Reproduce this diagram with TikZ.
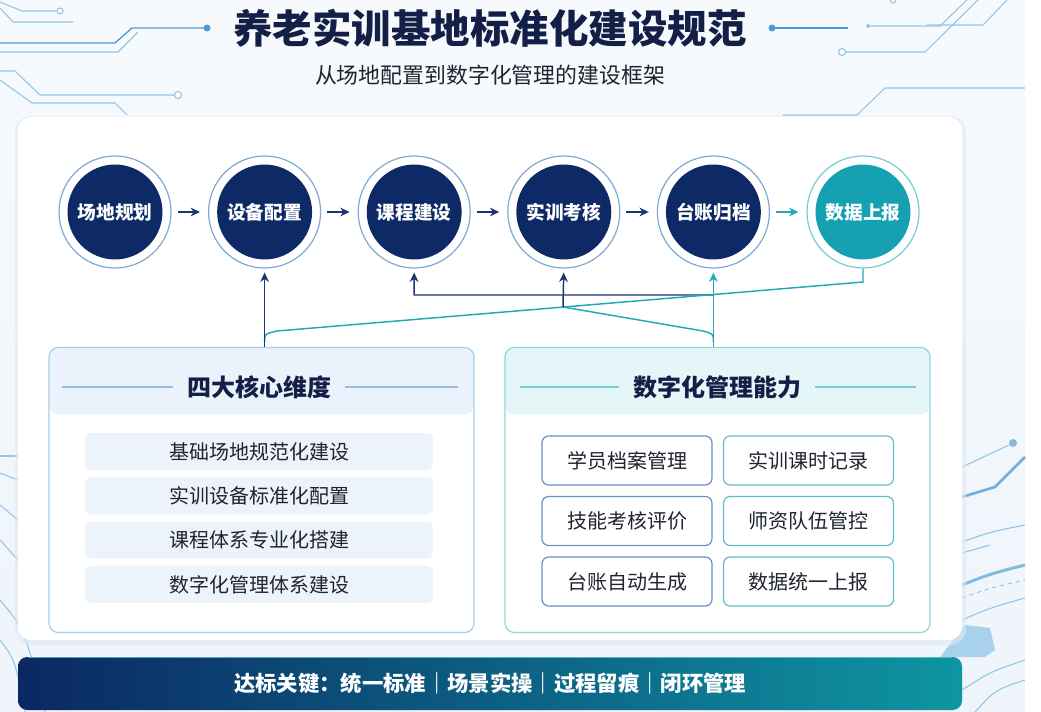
\documentclass[tikz,border=0pt]{standalone}
\usepackage{fontspec}
\setmainfont{Noto Sans CJK SC}
\usepackage{tikz}
\usetikzlibrary{arrows.meta,calc}
\definecolor{navydeep}{HTML}{0E2A66}
\definecolor{navyline}{HTML}{1C3374}
\definecolor{tealdot}{HTML}{15A1B1}
\definecolor{tealline}{HTML}{22A9B5}
\definecolor{ringblue}{HTML}{7FA9D4}
\definecolor{ringteal}{HTML}{72CDD2}
\definecolor{titleink}{HTML}{141F47}
\definecolor{textink}{HTML}{1F2430}
\definecolor{decoblue}{HTML}{92C6E8}
\definecolor{decomid}{HTML}{4E9BD4}
\definecolor{hdrblue}{HTML}{EAF3FB}
\definecolor{hdrteal}{HTML}{E4F6F7}
\definecolor{itemfill}{HTML}{EDF3FA}
\definecolor{panelblue}{HTML}{A9CDEA}
\definecolor{panelteal}{HTML}{8ED8DA}
\definecolor{boxblue}{HTML}{6A90C8}
\definecolor{boxteal}{HTML}{5DBEC6}
\definecolor{hdrlineblue}{HTML}{9DBCD9}
\definecolor{hdrlineteal}{HTML}{7CCFD4}
\definecolor{bannerleft}{HTML}{0B2862}
\definecolor{bannerright}{HTML}{0E95A2}

\tikzset{
  stepdot/.style={circle, draw=ringblue, fill=white, line width=0.9pt, minimum size=84pt,
    inner sep=0pt, text=white, font=\bfseries\fontsize{14}{16}\selectfont,
    path picture={\fill[#1] (path picture bounding box.center) circle (35.6pt);}},
  stepdot/.default=navydeep,
  flow/.style={-{Stealth[length=7pt,width=6.5pt]}, line width=1.3pt, navyline,
    shorten <=4.5pt, shorten >=6pt},
  riser/.style={-{Stealth[length=7pt,width=6.5pt]}, line width=1.1pt, shorten >=3pt},
  panel/.style 2 args={draw=#1, fill=white, line width=0.9pt, rounded corners=7pt,
    minimum width=318.75pt, minimum height=213.75pt,
    path picture={\fill[#2] (path picture bounding box.north west) rectangle
      ([yshift=-50.25pt]path picture bounding box.north east);}},
  paneltitle/.style={inner sep=0pt, text=titleink, font=\bfseries\fontsize{18}{20}\selectfont},
  itembox/.style={fill=itemfill, rounded corners=4pt, minimum width=261pt,
    minimum height=27.75pt, text=textink, font=\fontsize{15}{17}\selectfont},
  abilitybox/.style={draw=#1, fill=white, rounded corners=5pt, line width=0.9pt,
    minimum width=127.5pt, minimum height=36.75pt, text=textink,
    font=\fontsize{15}{17}\selectfont},
  decoline/.style={decoblue, line width=0.8pt},
}

\begin{document}
\begin{tikzpicture}[x=0.75pt, y=-0.75pt]
  \useasboundingbox (0,0) rectangle (1041,712);
  % page background
  \fill[top color=white!60!hdrblue, bottom color=hdrblue!80!ringblue!40] (0,0) rectangle (1025,712);
  \fill[white] (1025,0) rectangle (1041,712);

  % circuit lines
  \begin{scope}[decoline]
    \draw (0,2) -- (22,11) -- (56,11);
    \draw[fill=white] (60,11) circle[radius=3];
    \draw (0,8) -- (13,22) -- (73,22);
    \draw[decomid, line width=1pt] (0,43) -- (115,43) -- (132,28) -- (207,28);
    \fill[decomid] (207,28) circle[radius=3.5];
    \draw (0,52) -- (118,52) -- (138,32);
    \draw (0,71) -- (15,71) -- (40,95) -- (174,95);
    \draw[fill=white] (178,95) circle[radius=3.5];
    \draw (0,80) -- (32,103) -- (115,103) -- (127,115);
    \draw[decomid, line width=1pt] (772,28) -- (848,28);
    \fill[decomid] (772,28) circle[radius=3.5];
    \draw (868,26) -- (940,26) -- (967,0);
    \fill (868,26) circle[radius=2];
    \draw (927,25) -- (983,25) -- (1007,0);
    \draw (846,52) -- (925,52) -- (978,0);
    \draw[fill=white] (842,52) circle[radius=3.5];
    \draw (783,115) -- (857,115) -- (885,88) -- (1025,88);
    \draw (893,0) circle[radius=3];
    % right edge
    \draw (962,467) -- (1009,445);
    \fill[decomid!70] (1013,443) circle[radius=4];
    \draw[decomid!80, line width=2pt] (962,497) -- (995,487) -- (1025,457);
    \draw (962,542) .. controls (990,532) .. (1025,525);
    \draw (962,553) -- (990,545);
    \draw[decomid!70, line width=2.2pt] (962,585) .. controls (990,574) .. (1025,565);
    \draw[dashed] (962,598) .. controls (990,588) .. (1025,580);
    \draw (962,620) .. controls (990,608) .. (1025,598);
    \fill[decoblue!80] (940,657) -- (965,625) -- (990,628) -- (995,650) -- (985,657) -- cycle;
    \draw (962,690) .. controls (990,672) .. (1025,660);
    \draw (975,712) .. controls (995,690) .. (1025,680);
    % left edge
    \draw (0,456) -- (18,456);
    \draw (0,473) -- (18,480);
    \draw (0,505) -- (18,520);
    \draw (0,540) -- (18,560);
    \draw (0,600) .. controls (25,630) .. (45,712);
    \draw (0,640) .. controls (15,660) .. (25,712);
  \end{scope}

  % headings
  \node[text=titleink, font=\bfseries\fontsize{29.6}{32}\selectfont] (title) at (490,28) {养老实训基地标准化建设规范};
  \node[text=textink, font=\fontsize{16.4}{18}\selectfont] (subtitle) at (490,75) {从场地配置到数字化管理的建设框架};

  % main card
  \fill[ringblue!25, opacity=.6, rounded corners=12pt] (15,116) rectangle (966,645);
  \fill[white, rounded corners=10pt] (18,117) rectangle (962,640);

  % process steps
  \foreach \lbl [count=\i] in {场地规划,设备配置,课程建设,实训考核,台账归档}
    \node[stepdot] (s\i) at ({115+149.6*(\i-1)},212) {\lbl};
  \node[stepdot=tealdot, draw=ringteal] (s6) at (863,212) {数据上报};
  \foreach \i/\j in {1/2,2/3,3/4,4/5}
    \draw[flow] (s\i.east) -- (s\j.west);
  \draw[flow, tealline] (s5.east) -- (s6.west);

  % panels
  \node[panel={panelblue}{hdrblue}] (dimL) at (261.5,490) {};
  \node[panel={panelteal}{hdrteal}] (digR) at (717.5,490) {};

  % links from panels to steps
  \coordinate (hub) at (563,307);
  \coordinate (bend) at (714,295);
  \draw[riser, navyline] (bend) -- (414,295) -- (s3.south);
  \draw[tealline, line width=1.1pt] (dimL.north -| s2.south) ++(0,-5)
    .. controls ++(0,-8) .. (277,331) -- (863,282) -- (s6.south);
  \draw[tealline, line width=1.1pt] (digR.north -| s5.south) ++(0,-5)
    .. controls ++(0,-8) .. (703,331) -- (hub);
  \draw[riser, navyline] (dimL.north -| s2.south) -- (s2.south);
  \draw[riser, navyline] (hub) -- (s4.south);
  \draw[riser, tealline] (digR.north -| s5.south) -- (s5.south);

  % left panel content
  \node[paneltitle] (tL) at (259,387) {四大核心维度};
  \draw[hdrlineblue, line width=0.9pt, shorten >=10pt] (62,387) -- (tL.west);
  \draw[hdrlineblue, line width=0.9pt, shorten <=10pt] (tL.east) -- (458,387);
  \foreach \lbl [count=\i] in {基础场地规范化建设,实训设备标准化配置,课程体系专业化搭建,数字化管理体系建设}
    \node[itembox] (d\i) at (259,{451.5+44.3*(\i-1)}) {\lbl};

  % right panel content
  \node[paneltitle] (tR) at (717,387) {数字化管理能力};
  \draw[hdrlineteal, line width=0.9pt, shorten >=10pt] (520,387) -- (tR.west);
  \draw[hdrlineteal, line width=0.9pt, shorten <=10pt] (tR.east) -- (916,387);
  \foreach \lbl/\col/\x/\y [count=\i] in {学员档案管理/boxblue/627/460.5, 实训课时记录/boxteal/808.5/460.5,
      技能考核评价/boxblue/627/521, 师资队伍管控/boxteal/808.5/521,
      台账自动生成/boxblue/627/581.5, 数据统一上报/boxteal/808.5/581.5}
    \node[abilitybox=\col] (m\i) at (\x,\y) {\lbl};

  % key banner
  \node[left color=bannerleft, right color=bannerright, rounded corners=7pt,
    minimum width=708pt, minimum height=39.75pt, text=white,
    font=\bfseries\fontsize{16}{18}\selectfont] (keys) at (490,683.5)
    {达标关键：统一标准｜场景实操｜过程留痕｜闭环管理};
  \draw[tealline!60, line width=0.8pt, opacity=.7] ([xshift=8pt,yshift=-0.5pt]keys.north west) -- ([xshift=-8pt,yshift=-0.5pt]keys.north east);
\end{tikzpicture}
\end{document}
